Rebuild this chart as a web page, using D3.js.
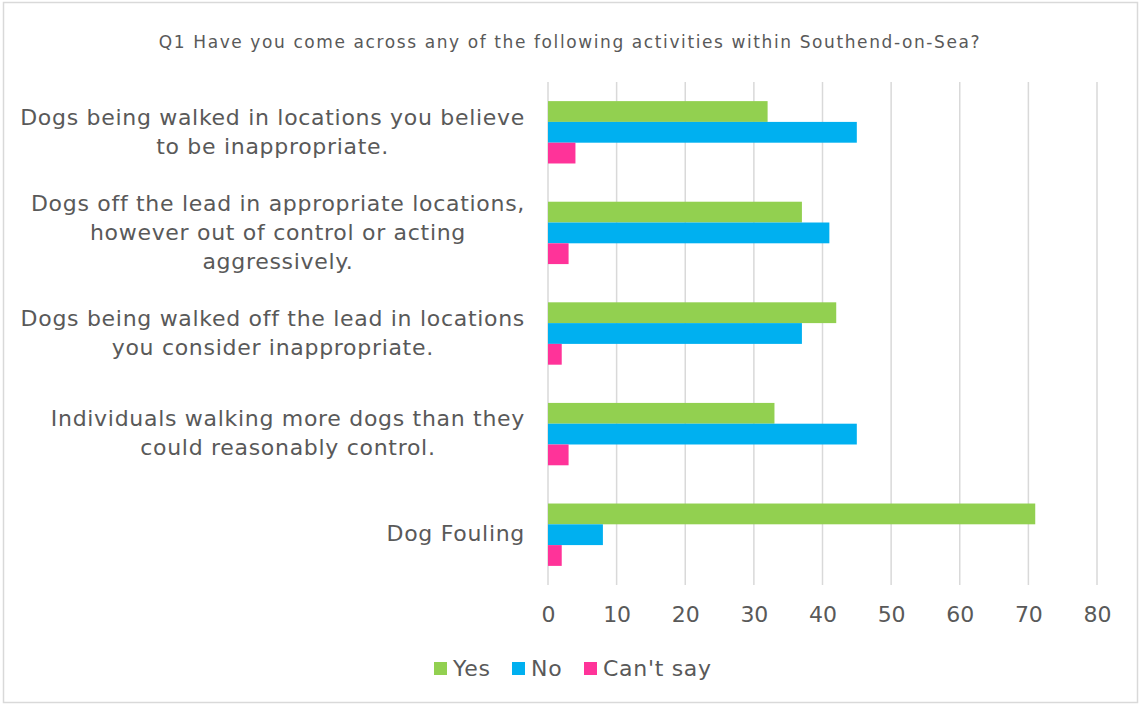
<!DOCTYPE html>
<html>
<head>
<meta charset="utf-8">
<script src="https://cdn.jsdelivr.net/npm/d3@7"></script>
<style>
  html, body { margin: 0; padding: 0; background: #fff; }
  svg { display: block; }
  text { font-family: "DejaVu Sans", sans-serif; fill: #595959; }
</style>
</head>
<body>
<svg id="chart" width="1141" height="705"></svg>
<script>
// Survey responses (%), one array per answer
const categories = [
  ["Dogs being walked in locations you believe", "to be inappropriate."],
  ["Dogs off the lead in appropriate locations,", "however out of control or acting", "aggressively."],
  ["Dogs being walked off the lead in locations", "you consider inappropriate."],
  ["Individuals walking more dogs than they", "could reasonably control."],
  ["Dog Fouling"]
];
const seriesNames = ["Yes", "No", "Can't say"];
const yesValues = [32, 37, 42, 33, 71];
const noValues = [45, 41, 37, 45, 8];
const cantSayValues = [4, 3, 2, 3, 2];
const xTicks = [0, 10, 20, 30, 40, 50, 60, 70, 80];
const colors = ["#92D050", "#00B0F0", "#FF3399"];
const title = "Q1 Have you come across any of the following activities within Southend-on-Sea?";

const values = [yesValues, noValues, cantSayValues];
const keys = categories.map((c, i) => i);

const svg = d3.select("#chart");

// outer frame
svg.append("rect")
  .attr("x", 3.5).attr("y", 2.5)
  .attr("width", 1134).attr("height", 700)
  .attr("fill", "#fff").attr("stroke", "#D9D9D9").attr("stroke-width", 1.5);

const plot = { left: 548, right: 1097, top: 82, bottom: 585 };

const x = d3.scaleLinear().domain([0, 80]).range([plot.left, plot.right]);
const y0 = d3.scaleBand().domain(keys).range([plot.top, plot.bottom])
  .paddingInner(0.38).paddingOuter(0.19);
const y1 = d3.scaleBand().domain(seriesNames).range([0, y0.bandwidth()]);

// title
svg.append("text")
  .attr("x", 570).attr("y", 47.5)
  .attr("text-anchor", "middle")
  .attr("font-size", 17)
  .attr("letter-spacing", 1.6)
  .text(title);

// vertical gridlines
svg.append("g")
  .selectAll("line")
  .data(xTicks)
  .join("line")
  .attr("x1", d => x(d)).attr("x2", d => x(d))
  .attr("y1", plot.top).attr("y2", plot.bottom)
  .attr("stroke", "#D9D9D9").attr("stroke-width", 1.5);

// bars
const groups = svg.append("g")
  .selectAll("g")
  .data(keys)
  .join("g")
  .attr("transform", d => `translate(0,${y0(d)})`);

groups.selectAll("rect")
  .data(i => seriesNames.map((s, j) => ({ s, j, v: values[j][i] })))
  .join("rect")
  .attr("x", x(0))
  .attr("y", d => y1(d.s))
  .attr("width", d => x(d.v) - x(0))
  .attr("height", y1.bandwidth())
  .attr("fill", d => colors[d.j]);

// x axis tick labels
const xAxis = d3.axisBottom(x).tickValues(xTicks).tickSize(0).tickPadding(0);
const gx = svg.append("g")
  .attr("transform", `translate(0,622)`)
  .call(xAxis);
gx.select(".domain").remove();
gx.selectAll("text")
  .attr("font-size", 22)
  .attr("font-family", "DejaVu Sans, sans-serif")
  .attr("fill", "#595959")
  .attr("dy", 0);

// category labels: centred lines, block right-aligned to the axis
const labelRight = 525;
const lineH = 29;
const labels = svg.append("g")
  .selectAll("g")
  .data(keys)
  .join("g");

labels.each(function (i) {
  const g = d3.select(this);
  const lines = categories[i];
  const cy = y0(i) + y0.bandwidth() / 2;
  const texts = g.selectAll("text")
    .data(lines)
    .join("text")
    .attr("font-size", 22)
    .attr("letter-spacing", 0.7)
    .attr("text-anchor", "middle")
    .attr("y", (d, k) => cy + (k - (lines.length - 1) / 2) * lineH + 6.7)
    .text(d => d);
  let maxW = 0;
  texts.each(function () { maxW = Math.max(maxW, this.getComputedTextLength()); });
  texts.attr("x", labelRight - maxW / 2);
});

// legend
const legendItems = [
  { name: "Yes", x: 434 },
  { name: "No", x: 512 },
  { name: "Can't say", x: 584 }
];
const legend = svg.append("g")
  .selectAll("g")
  .data(legendItems)
  .join("g")
  .attr("transform", d => `translate(${d.x},${668.5})`);
legend.append("rect")
  .attr("x", 0).attr("y", -6.5)
  .attr("width", 13).attr("height", 13)
  .attr("fill", (d, i) => colors[i]);
legend.append("text")
  .attr("x", 19).attr("y", 7.5)
  .attr("font-size", 22)
  .attr("letter-spacing", 0.7)
  .text(d => d.name);
</script>
</body>
</html>
